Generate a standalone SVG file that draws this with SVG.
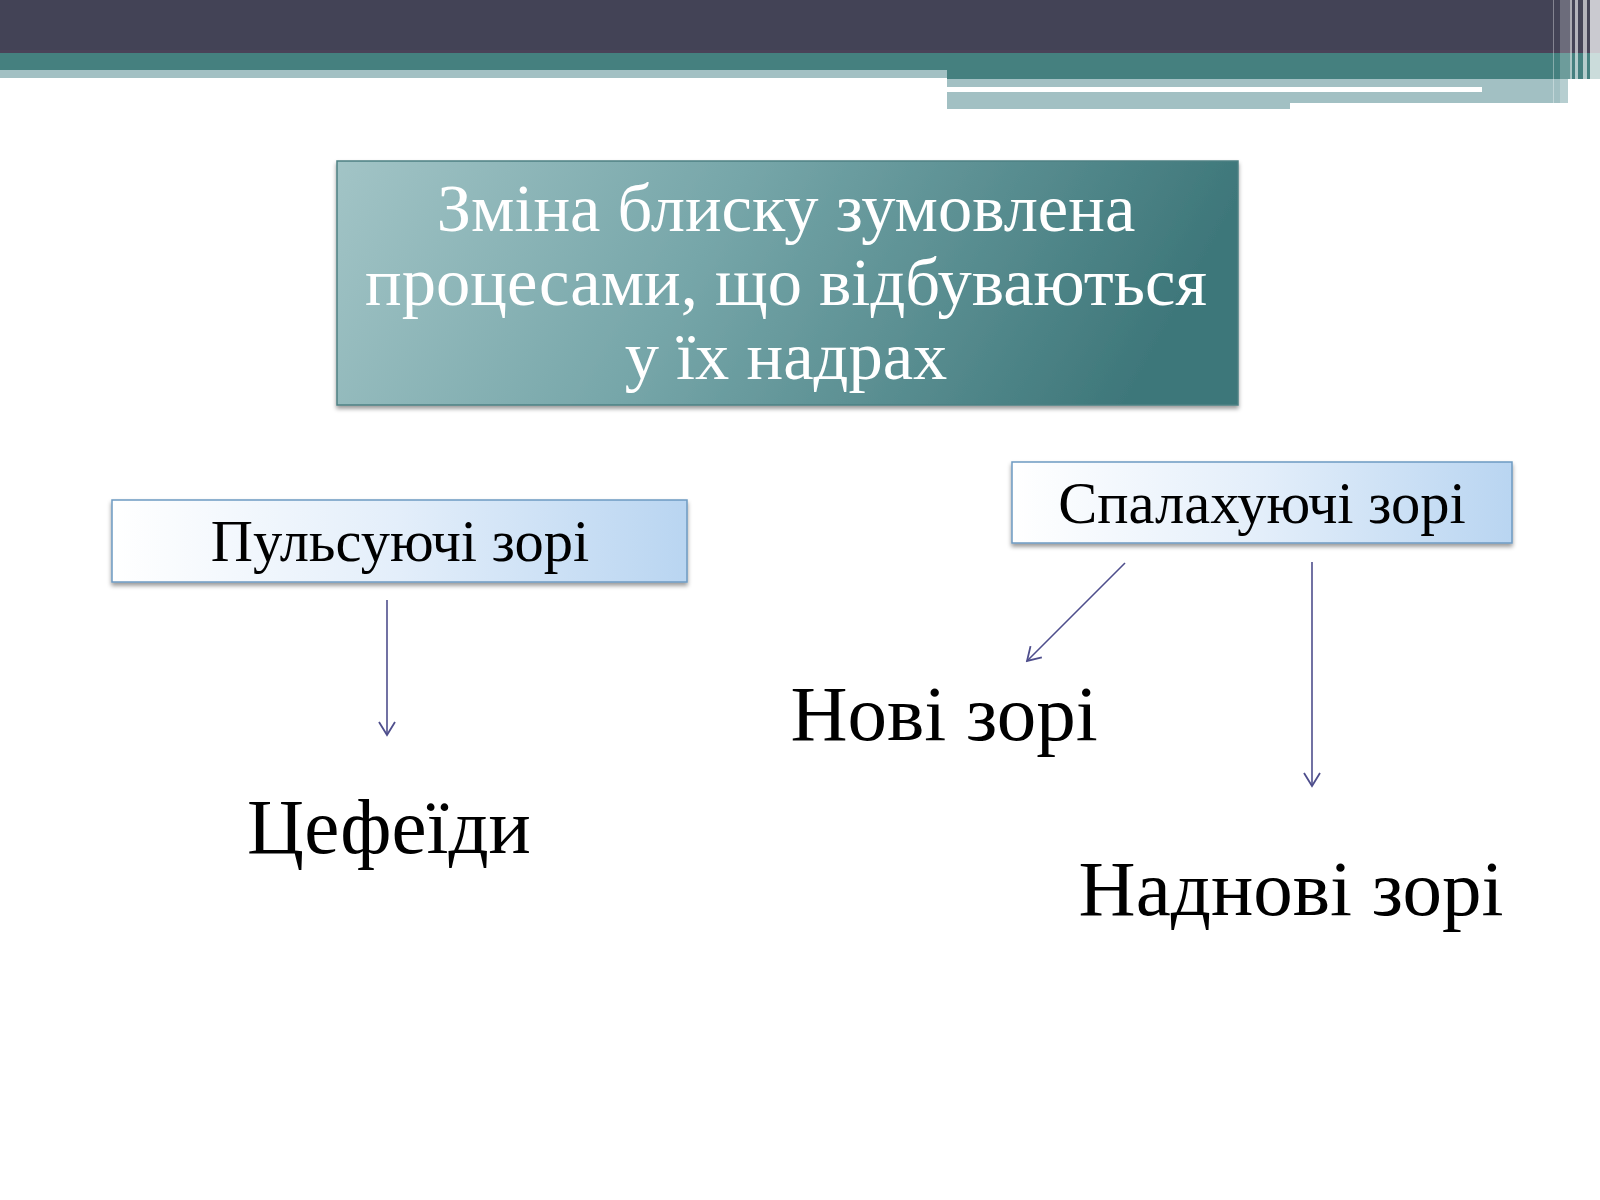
<svg xmlns="http://www.w3.org/2000/svg" width="1600" height="1200" viewBox="0 0 1600 1200">
<style>
.serif{font-family:"Liberation Serif","DejaVu Serif",serif}
.head{fill:#ffffff;font-size:68.5px}
.lbl{fill:#000000;font-size:58.5px}
.big{fill:#000000;font-size:79px}
.conn{stroke:#4e4e8c;stroke-width:1.6;fill:none}
.sub{stroke:#6e9ac2;stroke-width:1.5}
</style>
<defs>
<linearGradient id="gMain" x1="0" y1="0" x2="1" y2="0.15">
<stop offset="0" stop-color="#a2c4c6"/>
<stop offset="0.45" stop-color="#76a6a9"/>
<stop offset="1" stop-color="#3e777a"/>
</linearGradient>
<linearGradient id="gSub" x1="0" y1="0" x2="1" y2="0">
<stop offset="0" stop-color="#ffffff"/>
<stop offset="0.5" stop-color="#e3eefa"/>
<stop offset="1" stop-color="#b9d5f1"/>
</linearGradient>
<filter id="sh" x="-5%" y="-10%" width="110%" height="130%">
<feDropShadow dx="0" dy="3" stdDeviation="2" flood-color="#000" flood-opacity="0.4"/>
</filter>
<marker id="arr" viewBox="0 0 20 20" refX="18" refY="10" markerWidth="20" markerHeight="20" markerUnits="userSpaceOnUse" orient="auto">
<path d="M5,2 L18,10 L5,18" fill="none" stroke="#4e4e8c" stroke-width="1.8"/>
</marker>
</defs>
<rect width="1600" height="1200" fill="#ffffff"/>
<g id="topbar">
<rect x="0" y="0" width="1600" height="53" fill="#434356"/>
<rect x="0" y="50" width="1600" height="3" fill="#4a4258"/>
<rect x="0" y="53" width="947" height="17" fill="#45807f"/>
<rect x="947" y="53" width="653" height="26" fill="#45807f"/>
<rect x="0" y="70" width="947" height="8" fill="#a2c0c3"/>
<rect x="947" y="79" width="621" height="8" fill="#a2c0c3"/>
<rect x="1482" y="87" width="86" height="5" fill="#a2c0c3"/>
<rect x="947" y="92" width="621" height="11" fill="#a2c0c3"/>
<rect x="947" y="103" width="343" height="6" fill="#a2c0c3"/>
<rect x="1553" y="0" width="1" height="109" fill="#ffffff" opacity="0.35"/>
<rect x="1560" y="0" width="10" height="109" fill="#ffffff" opacity="0.22"/>
<rect x="1570" y="0" width="2" height="109" fill="#ffffff" opacity="0.55"/>
<rect x="1575" y="0" width="3" height="109" fill="#ffffff" opacity="0.6"/>
<rect x="1583" y="0" width="4" height="109" fill="#ffffff" opacity="0.6"/>
<rect x="1590" y="0" width="10" height="109" fill="#ffffff" opacity="0.72"/>
</g>
<g id="main">
<rect x="337" y="161" width="901" height="244" fill="url(#gMain)" stroke="#4d8083" stroke-width="1.5" filter="url(#sh)"/>
<text class="serif head" text-anchor="middle" x="786" y="231">Зміна блиску зумовлена</text>
<text class="serif head" text-anchor="middle" x="786" y="305">процесами, що відбуваються</text>
<text class="serif head" text-anchor="middle" x="786" y="379">у їх надрах</text>
</g>
<g id="pulsating">
<rect x="112" y="500" width="575" height="82" fill="url(#gSub)" class="sub" filter="url(#sh)"/>
<text class="serif lbl" text-anchor="middle" x="400" y="561">Пульсуючі зорі</text>
</g>
<g id="eruptive">
<rect x="1012" y="462" width="500" height="81" fill="url(#gSub)" class="sub" filter="url(#sh)"/>
<text class="serif lbl" text-anchor="middle" x="1262" y="523">Спалахуючі зорі</text>
</g>
<g id="cepheids">
<text class="serif big" text-anchor="middle" x="389" y="853">Цефеїди</text>
</g>
<g id="novae">
<text class="serif big" text-anchor="middle" x="944" y="740">Нові зорі</text>
</g>
<g id="supernovae">
<text class="serif big" text-anchor="middle" x="1291" y="915">Наднові зорі</text>
</g>
<g id="connectors">
<line class="conn" x1="387" y1="600" x2="387" y2="735" marker-end="url(#arr)"/>
<line class="conn" x1="1125" y1="563" x2="1027" y2="661" marker-end="url(#arr)"/>
<line class="conn" x1="1312" y1="562" x2="1312" y2="786" marker-end="url(#arr)"/>
</g>
</svg>
